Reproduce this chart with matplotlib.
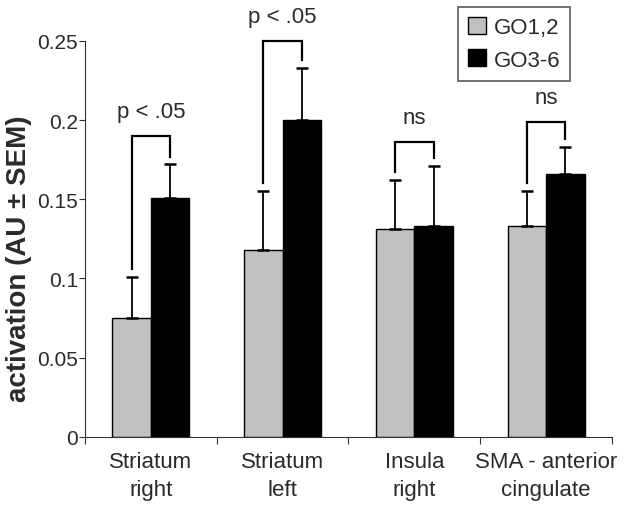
import matplotlib
matplotlib.use('Agg')
import matplotlib.pyplot as plt
import numpy as np

plt.rcParams['font.family'] = ['Liberation Sans', 'DejaVu Sans']

regions = ['Striatum\nright', 'Striatum\nleft', 'Insula\nright', 'SMA - anterior\ncingulate']
go12 = [0.075, 0.118, 0.131, 0.133]
go12_sem = [0.026, 0.037, 0.031, 0.022]
go36 = [0.151, 0.200, 0.133, 0.166]
go36_sem = [0.021, 0.033, 0.038, 0.017]
sig_labels = ['p < .05', 'p < .05', 'ns', 'ns']
bracket_top = [0.190, 0.250, 0.186, 0.199]

txt = '#2a2a2a'
fig = plt.figure(figsize=(6.29, 5.06), dpi=100)
ax = fig.add_axes([0.1351, 0.135, 0.8378, 0.782])

x = np.arange(len(regions)) + 0.5
w = 0.292
ax.bar(x - w/2, go12, w, color='#c0c0c0', edgecolor='black', linewidth=1, label='GO1,2', zorder=2)
ax.bar(x + w/2, go36, w, color='black', edgecolor='black', linewidth=1, label='GO3-6', zorder=2)
ax.errorbar(x - w/2, go12, yerr=[np.zeros(4), go12_sem], fmt='none', ecolor='black',
            elinewidth=1.3, capsize=4, capthick=1.8, zorder=3)
ax.errorbar(x + w/2, go36, yerr=[np.zeros(4), go36_sem], fmt='none', ecolor='black',
            elinewidth=1.3, capsize=4, capthick=1.8, zorder=3)

# significance brackets
gap = 0.005
for i in range(len(regions)):
    xl, xr = x[i] - w/2, x[i] + w/2
    yl = go12[i] + go12_sem[i] + gap
    yr = go36[i] + go36_sem[i] + gap
    top = bracket_top[i]
    ax.plot([xl, xl, xr, xr], [yl, top, top, yr], color='black', lw=1.6,
            clip_on=False, solid_joinstyle='miter', zorder=4)
    ax.text(x[i], top + 0.0155, sig_labels[i], ha='center', va='center',
            fontsize=16, color=txt, clip_on=False)

ax.set_xlim(0, 4)
ax.set_ylim(0, 0.25)
ax.spines['top'].set_visible(False)
ax.spines['right'].set_visible(False)
ax.spines['left'].set_color('#333333')
ax.spines['bottom'].set_color('#333333')

ax.set_yticks([0, 0.05, 0.1, 0.15, 0.2, 0.25])
ax.set_yticklabels(['0', '0.05', '0.1', '0.15', '0.2', '0.25'])
ax.tick_params(axis='y', direction='out', length=4, pad=1, labelsize=15, labelcolor=txt, color='#333333')
ax.set_xticks([0, 1, 2, 3, 4])
ax.set_xticklabels([])
ax.tick_params(axis='x', which='major', direction='out', length=5, color='#333333')
ax.set_xticks(x, minor=True)
ax.set_xticklabels(regions, minor=True, fontsize=16, color=txt, linespacing=1.45)
ax.tick_params(axis='x', which='minor', length=0, pad=10)

ax.set_ylabel('activation (AU ± SEM)', fontsize=20, fontweight='bold', color=txt)
ax.yaxis.set_label_coords(-0.101, 0.452)

leg = ax.legend(loc='upper left', bbox_to_anchor=(0.728, 0.984), bbox_transform=fig.transFigure,
                borderaxespad=0, fontsize=16, frameon=True, fancybox=False, edgecolor='#333333',
                handlelength=0.8, handleheight=0.8, handletextpad=0.35, labelspacing=0.5,
                borderpad=0.45)
leg.get_frame().set_linewidth(1.2)
for t in leg.get_texts():
    t.set_color(txt)

fig.savefig('out.png', dpi=100)
